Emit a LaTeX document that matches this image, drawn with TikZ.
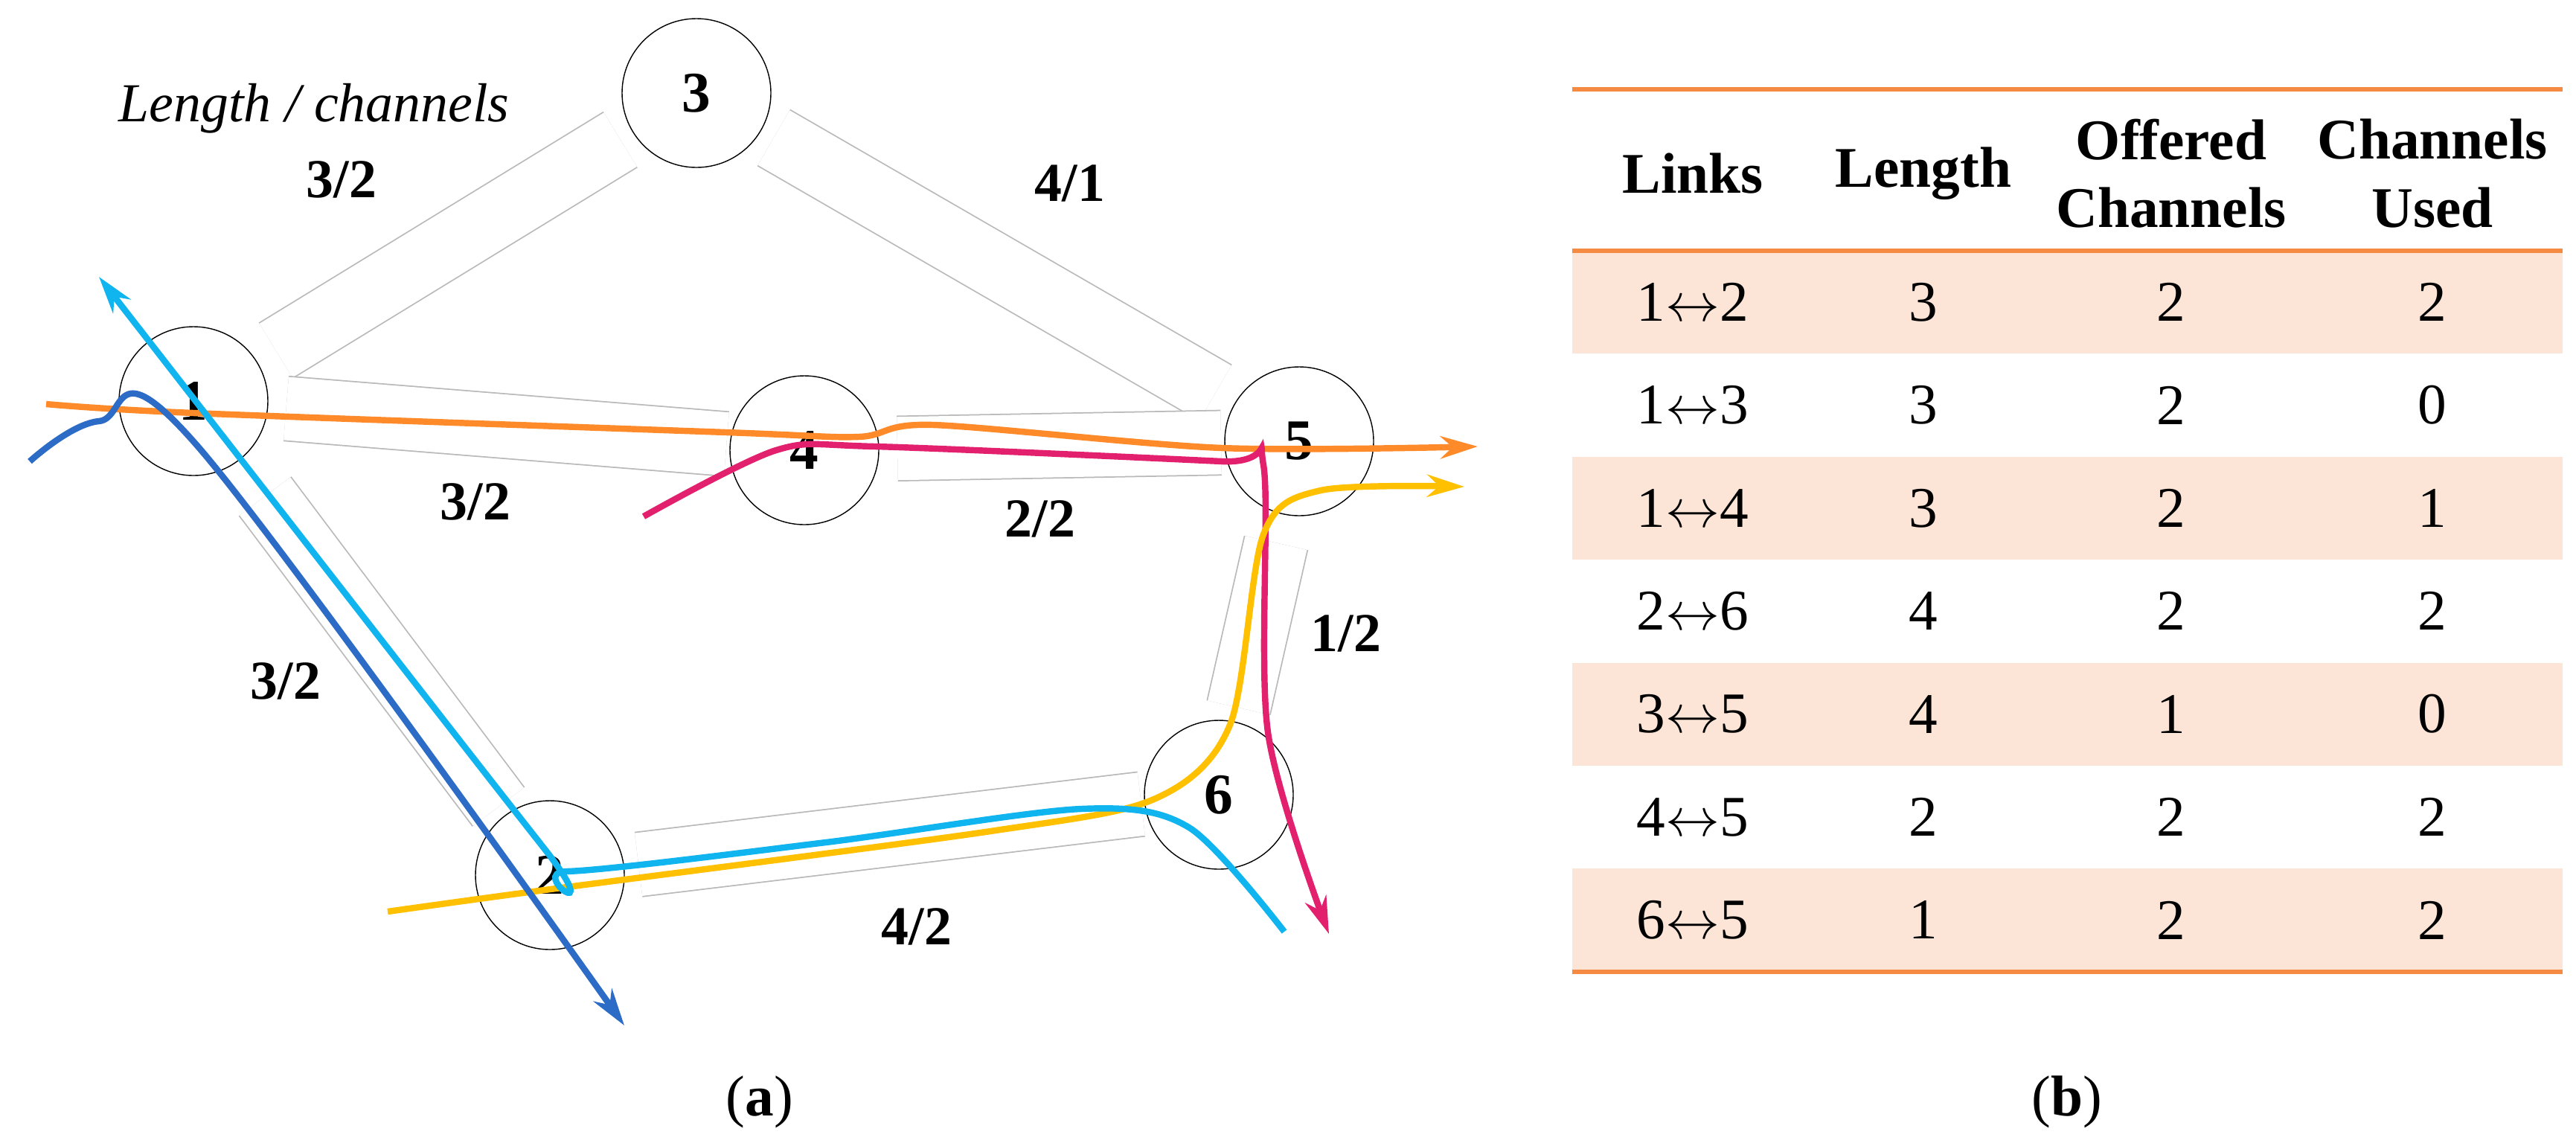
\documentclass[tikz,border=0pt]{standalone}
\usepackage{fontspec}
\setmainfont{Liberation Serif}
\usetikzlibrary{calc,arrows.meta}
\definecolor{routeorange}{HTML}{FF8A2A}
\definecolor{routemag}{HTML}{E2206E}
\definecolor{routeyel}{HTML}{FFC000}
\definecolor{routecyan}{HTML}{10B4EE}
\definecolor{routeblue}{HTML}{2C6CC6}
\definecolor{rowfill}{HTML}{FCE4D6}
\definecolor{rulecol}{HTML}{F58A42}
\tikzset{
  site/.style={circle,draw,thin,minimum size=2.0cm,inner sep=0pt,font=\fontsize{22}{24}\selectfont\bfseries},
  tube/.style={draw=gray!55,line width=0.5pt,double=white,double distance=0.85cm},
  lbl/.style={font=\fontsize{21}{24}\selectfont\bfseries},
  route/.style={line width=2.4pt,-{Stealth[length=5mm,width=3mm]}},
  cell/.style={font=\fontsize{22}{26}\selectfont},
  head/.style={font=\fontsize{22}{26}\selectfont\bfseries,align=center},
}
\begin{document}
\begin{tikzpicture}
	\useasboundingbox (0,0) rectangle (34.62,-15.35);
	% sites
	\node[site] (n1) at (2.60,-5.39) {1};
	\node[site] (n2) at (7.39,-11.76) {2};
	\node[site] (n3) at (9.36,-1.25) {3};
	\node[site] (n4) at (10.81,-6.05) {4};
	\node[site] (n5) at (17.46,-5.93) {5};
	\node[site] (n6) at (16.38,-10.68) {6};
	% fibre links
	\draw[tube] ($(n1)!1.3cm!(n3)$) -- ($(n3)!1.2cm!(n1)$);
	\draw[tube] ($(n3)!1.2cm!(n5)$) -- ($(n5)!1.3cm!(n3)$);
	\draw[tube] ($(n1)!1.25cm!(n4)$) -- ($(n4)!1.05cm!(n1)$);
	\draw[tube] ($(n4)!1.25cm!(n5)$) -- ($(n5)!1.05cm!(n4)$);
	\draw[tube] ($(n1)!1.6cm!(n2)$) -- ($(n2)!1.15cm!(n1)$);
	\draw[tube] ($(n2)!1.2cm!(n6)$) -- ($(n6)!1.05cm!(n2)$);
	\draw[tube] ($(n5)!1.4cm!(n6)$) -- ($(n6)!1.2cm!(n5)$);
	% labels
	\node[font=\fontsize{21}{24}\selectfont\itshape] (leg) at (4.22,-1.46) {Length / channels};
	\node[lbl] (l13) at (4.59,-2.41) {3/2};
	\node[lbl] (l35) at (14.38,-2.46) {4/1};
	\node[lbl] (l14) at (6.39,-6.74) {3/2};
	\node[lbl] (l45) at (13.98,-6.97) {2/2};
	\node[lbl] (l56) at (18.09,-8.51) {1/2};
	\node[lbl] (l12) at (3.84,-9.15) {3/2};
	\node[lbl] (l26) at (12.32,-12.45) {4/2};
	% routes
	\draw[route,routeorange] plot[smooth,tension=0.5] coordinates {(0.62,-5.43) (2.6,-5.55) (9.76,-5.81) (11.54,-5.87) (12.54,-5.71) (16.42,-6.02) (19.86,-6.00)};
	\draw[route,routemag] plot[smooth,tension=0.5] coordinates {(8.65,-6.94) (10.43,-6.05) (11.76,-6.00) (16.42,-6.20) (16.98,-6.25) (17.04,-9.84) (17.86,-12.55)};
	\draw[route,routeyel] plot[smooth,tension=0.5] coordinates {(5.21,-12.25) (7.32,-11.96) (13.31,-11.17) (15.53,-10.73) (16.53,-9.74) (16.98,-7.18) (17.75,-6.59) (19.68,-6.54)};
	\draw[route,routecyan,{Stealth[length=5mm,width=3mm]}-] plot[smooth,tension=0.5] coordinates {(1.33,-3.72) (7.32,-11.41) (7.61,-11.71) (11.10,-11.32) (14.53,-10.87) (15.98,-11.12) (17.26,-12.52)};
	\draw[route,routeblue] plot[smooth,tension=0.6] coordinates {(0.40,-6.20) (1.33,-5.66) (2.66,-6.00) (8.39,-13.78)};
	% table
	\foreach \r in {0,2,4,6}{
		\fill[rowfill] (21.13,-3.37-\r*1.384) rectangle (34.44,-4.754-\r*1.384);
	}
	\draw[rulecol,line width=1.5pt] (21.13,-1.20) -- (34.44,-1.20);
	\draw[rulecol,line width=1.5pt] (21.13,-3.37) -- (34.44,-3.37);
	\draw[rulecol,line width=1.5pt] (21.13,-13.06) -- (34.44,-13.06);
	\node[head] (h1) at (22.75,-2.33) {Links};
	\node[head] (h2) at (25.85,-2.33) {Length};
	\node[head] (h3) at (29.18,-2.33) {Offered\\Channels};
	\node[head] (h4) at (32.69,-2.33) {Channels\\Used};
	\foreach \lk/\le/\oc/\cu [count=\i from 0] in {1/3/2/2,1/3/2/0,1/3/2/1,2/4/2/2,3/4/1/0,4/2/2/2,6/1/2/2}{
		\pgfmathsetmacro{\y}{-4.06-\i*1.384}
	}
	\foreach \a/\b/\le/\oc/\cu [count=\i from 0] in {1/2/3/2/2,1/3/3/2/0,1/4/3/2/1,2/6/4/2/2,3/5/4/1/0,4/5/2/2/2,6/5/1/2/2}{
		\node[cell] at (22.75,-4.06-\i*1.384) {\a$\leftrightarrow$\b};
		\node[cell] at (25.85,-4.06-\i*1.384) {\le};
		\node[cell] at (29.18,-4.06-\i*1.384) {\oc};
		\node[cell] at (32.69,-4.06-\i*1.384) {\cu};
	}
	% captions
	\node[cell] (capa) at (10.21,-14.81) {(\textbf{a})};
	\node[cell] (capb) at (27.78,-14.81) {(\textbf{b})};
\end{tikzpicture}
\end{document}
